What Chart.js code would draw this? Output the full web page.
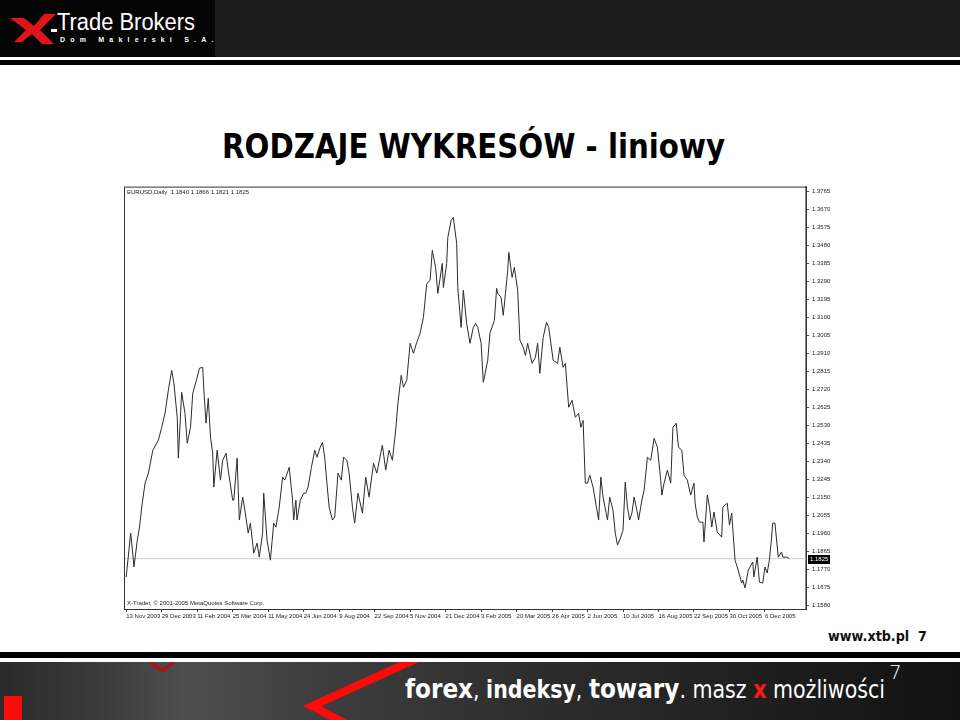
<!DOCTYPE html>
<html>
<head>
<meta charset="utf-8">
<script src="https://cdn.jsdelivr.net/npm/chart.js@4.4.1/dist/chart.umd.min.js"></script>
<style>
  html, body { margin: 0; padding: 0; }
  body { width: 960px; height: 720px; position: relative; overflow: hidden; background: #fff; font-family: "Liberation Sans", Arial, sans-serif; }
  .abs { position: absolute; }
  #header { left: 0; top: 0; width: 960px; height: 57px; background: #1b1b1b; }
  #headerLeft { left: 0; top: 0; width: 215px; height: 57px; background: #050505; }
  #logoText { left: 57px; top: 9px; color: #fff; font-size: 23px; white-space: nowrap; transform-origin: 0 0; }
  #logoSub { left: 60px; top: 36px; color: #fff; font-size: 7px; font-weight: bold; letter-spacing: 5.2px; white-space: nowrap; }
  #bar1 { left: 0; top: 60px; width: 960px; height: 5px; background: #000; }
  #title { left: 222px; top: 126px; font-family: "DejaVu Sans", sans-serif; font-weight: bold; font-size: 34px; color: #000; white-space: nowrap; transform-origin: 0 0; }
  #chartBox { left: 110px; top: 180px; width: 750px; height: 445px; }
  #www { left: 828px; top: 628px; font-family: "DejaVu Sans", sans-serif; font-weight: bold; font-size: 14px; color: #111; white-space: nowrap; transform-origin: 0 0; }
  #bar2 { left: 0; top: 652px; width: 960px; height: 6px; background: #000; }
  #footer { left: 0; top: 662px; width: 960px; height: 58px;
    background: linear-gradient(90deg, #2a2a2a 0%, #3a3a3a 10%, #4e4e4e 19%, #3c3c3c 35%, #2e2e2e 55%, #1e1e1e 80%, #111 100%); overflow: hidden; }
  #slogan { left: 405px; top: 673px; color: #fff; font-family: "DejaVu Sans", sans-serif; font-size: 24px; white-space: nowrap; transform-origin: 0 0; }
  #slogan b { font-weight: bold; }
  #slogan .big { font-size: 27px; }
  #slogan .x { color: #ff1a1a; font-weight: bold; }
  #pageNo { left: 889px; top: 660px; color: #fff; font-size: 20px; font-family: "DejaVu Sans", sans-serif; font-weight: 200; }
</style>
</head>
<body>
<div id="header" class="abs"></div>
<div id="headerLeft" class="abs"></div>
<svg class="abs" style="left:10px;top:12px" width="48" height="34" viewBox="0 0 48 34">
  <polygon points="0,6 14,6 24,14 34,2 46,2 30,18 44,32 32,32 22,22 12,30 4,30 16,18" fill="#e0141a"/>
  <rect x="41" y="17" width="6" height="3" fill="#fff"/>
</svg>
<div id="logoText" class="abs">Trade Brokers</div>
<div id="logoSub" class="abs">Dom Maklerski S.A.</div>
<div id="bar1" class="abs"></div>

<div id="title" class="abs">RODZAJE WYKRESÓW - liniowy</div>

<div id="chartBox" class="abs"><canvas id="lineChart" width="750" height="445"></canvas></div>

<div id="www" class="abs">www.xtb.pl&nbsp;&nbsp;7</div>
<div id="bar2" class="abs"></div>
<div id="footer" class="abs">
  <svg width="960" height="58" style="position:absolute;left:0;top:0">
    <rect x="4" y="34" width="18" height="24" fill="#ff0a0a"/>
    <polyline points="150,0 162,9 174,0" fill="none" stroke="#b01010" stroke-width="3"/>
    <polyline points="418,-4 312,44 350,64" fill="none" stroke="#ff0a0a" stroke-width="8"/>
  </svg>
</div>
<div id="slogan" class="abs"><b class="big">forex</b>, <b>indeksy</b>, <b class="big">towary</b>. masz <span class="x">x</span> możliwości</div>
<div id="pageNo" class="abs">7</div>

<script>
// EURUSD daily close, bar index from 13 Nov 2003
const bars = [0,4,5,7,10,12,14,17,20,24,
  29,32,35,38,41,43,46,47,50,53,
  55,58,60,64,66,69,70,72,74,76,
  78,79,82,85,87,90,92,96,97,100,
  102,105,107,110,112,115,118,120,123,124,
  127,130,133,135,138,141,143,147,150,151,
  153,154,157,160,162,164,167,170,172,175,
  177,179,181,183,186,188,191,194,196,199,
  201,204,206,209,213,216,219,223,226,231,
  234,237,240,243,245,248,250,253,256,259,
  262,265,268,271,274,276,279,281,285,286,
  289,290,293,295,298,299,302,304,307,310,
  313,315,317,320,322,326,328,332,334,335,
  338,340,342,344,345,348,350,353,355,358,
  360,362,366,369,371,373,376,379,381,385,
  389,391,394,396,399,402,405,408,410,412,
  414,416,418,421,424,426,428,430,434,436,
  439,441,443,446,448,450,452,454,456,458,
  461,462,465,467,470,473,476,479,482,483,
  485,488,491,493,496,498,501,503,506,509,
  512,513,515,517,520,521,524,526,528,530,
  533,537,538,542,544,546,549,551,555,556,
  558,561,565,566,569,571,574,576,578,580,
  582,583,585,588,591,592,596,598];

const prices = [1.1728,1.1960,1.1907,1.1781,1.1923,1.1992,1.2097,1.2224,1.2277,1.2398,
  1.2451,1.2519,1.2593,1.2715,1.2820,1.2752,1.2572,1.2356,1.2704,1.2593,
  1.2435,1.2519,1.2699,1.2783,1.2831,1.2836,1.2715,1.2541,1.2673,1.2467,
  1.2382,1.2203,1.2398,1.2240,1.2345,1.2382,1.2293,1.2134,1.2134,1.2356,
  1.2029,1.2150,1.2081,1.1960,1.2013,1.1854,1.1907,1.1833,1.1960,1.2171,
  1.1923,1.1817,1.2013,1.1992,1.2097,1.2256,1.2240,1.2308,1.2134,1.2029,
  1.2134,1.2029,1.2134,1.2171,1.2171,1.2203,1.2308,1.2398,1.2361,1.2414,
  1.2440,1.2361,1.2224,1.2097,1.2029,1.2044,1.2277,1.2240,1.2361,1.2345,
  1.2277,1.2097,1.2013,1.2171,1.2066,1.2256,1.2150,1.2329,1.2277,1.2424,
  1.2293,1.2398,1.2345,1.2504,1.2646,1.2794,1.2731,1.2768,1.2963,1.2910,
  1.2968,1.3016,1.3100,1.3279,1.3295,1.3454,1.3364,1.3227,1.3385,1.3258,
  1.3385,1.3522,1.3612,1.3628,1.3491,1.3258,1.3047,1.3243,1.3068,1.2963,
  1.3047,1.3068,1.3047,1.2963,1.2757,1.2873,1.3016,1.3084,1.3253,1.3227,
  1.3206,1.3111,1.3227,1.3348,1.3443,1.3311,1.3364,1.3243,1.2979,1.2942,
  1.2899,1.2963,1.2857,1.2889,1.2963,1.2804,1.2994,1.3074,1.3047,1.2873,
  1.2857,1.2942,1.2836,1.2857,1.2625,1.2662,1.2572,1.2593,1.2519,1.2556,
  1.2224,1.2224,1.2266,1.2203,1.2097,1.2029,1.2256,1.2150,1.2029,1.2150,
  1.2081,1.1960,1.1897,1.1939,1.1976,1.2229,1.2097,1.2029,1.2066,1.2150,
  1.2066,1.2029,1.2134,1.2187,1.2361,1.2345,1.2461,1.2414,1.2240,1.2161,
  1.2224,1.2293,1.2224,1.2519,1.2541,1.2414,1.2398,1.2266,1.2240,1.2161,
  1.2224,1.2118,1.2044,1.2018,1.2018,1.1913,1.2161,1.2097,1.1992,1.2071,
  1.1965,1.1939,1.2097,1.2118,1.2002,1.2066,1.1817,1.1781,1.1696,1.1712,
  1.1670,1.1765,1.1807,1.1728,1.1833,1.1701,1.1696,1.1781,1.1749,1.1817,
  1.1939,1.2013,1.2013,1.1833,1.1860,1.1833,1.1833,1.1825];

const tickBars = [0,32,64,96,128,160,192,224,256,288,320,352,384,416,448,480,512,544,576];
const dateLabels = ['13 Nov 2003','29 Dec 2003','11 Feb 2004','25 Mar 2004','11 May 2004','24 Jun 2004',
  '9 Aug 2004','22 Sep 2004','5 Nov 2004','21 Dec 2004','3 Feb 2005','20 Mar 2005','26 Apr 2005',
  '2 Jun 2005','10 Jul 2005','16 Aug 2005','22 Sep 2005','30 Oct 2005','6 Dec 2005'];
const priceTicks = [1.1580,1.1675,1.1770,1.1865,1.1960,1.2055,1.2150,1.2245,1.2340,1.2435,1.2530,1.2625,
  1.2720,1.2815,1.2910,1.3005,1.3100,1.3195,1.3290,1.3385,1.3480,1.3575,1.3670,1.3765];
const lastBar = { open: 1.1840, high: 1.1866, low: 1.1821, close: 1.1825 };
const symbolLabel = 'EURUSD,Daily';
const copyrightLabel = 'X-Trader, © 2001-2005 MetaQuotes Software Corp.';

const tinyFont = { family: 'Liberation Sans', size: 6 };

function fitWidth(id, target) {
  const el = document.getElementById(id);
  const w = el.getBoundingClientRect().width;
  el.style.transform = 'scaleX(' + (target / w) + ')';
}

// frame, info texts and the bid price box
const terminalDecor = {
  id: 'terminalDecor',
  afterDraw(chart) {
    const ctx = chart.ctx;
    const a = chart.chartArea;
    const y = chart.scales.y;
    ctx.save();
    ctx.strokeStyle = '#333';
    ctx.lineWidth = 1;
    ctx.strokeRect(a.left + 0.5, a.top + 0.5, a.right - a.left, a.bottom - a.top);
    ctx.fillStyle = '#222';
    ctx.font = '6px "Liberation Sans"';
    ctx.textBaseline = 'top';
    ctx.fillText(symbolLabel + '  ' + [lastBar.open, lastBar.high, lastBar.low, lastBar.close].map(v => v.toFixed(4)).join(' '), a.left + 3, a.top + 3);
    ctx.textBaseline = 'bottom';
    ctx.fillText(copyrightLabel, a.left + 3, a.bottom - 3);
    const py = Math.round(y.getPixelForValue(lastBar.close));
    ctx.fillStyle = '#000';
    ctx.fillRect(a.right + 2, py - 4, 22, 9);
    ctx.fillStyle = '#fff';
    ctx.textBaseline = 'middle';
    ctx.fillText(lastBar.close.toFixed(4), a.right + 4, py + 0.5);
    ctx.restore();
  }
};

const ctx = document.getElementById('lineChart').getContext('2d');
new Chart(ctx, {
  type: 'line',
  data: {
    datasets: [
      {
        label: 'EURUSD',
        data: prices.map((p, i) => ({ x: bars[i], y: p })),
        borderColor: '#2b2b2b',
        borderWidth: 1,
        pointRadius: 0,
        tension: 0,
        order: 0
      },
      {
        label: 'Bid',
        data: [{ x: -2, y: lastBar.close }, { x: 613, y: lastBar.close }],
        borderColor: '#cfcfcf',
        borderWidth: 1,
        pointRadius: 0,
        order: 1
      }
    ]
  },
  options: {
    responsive: false,
    animation: false,
    devicePixelRatio: 1,
    layout: { padding: { left: 14, top: 6, right: 0, bottom: 0 } },
    plugins: { legend: { display: false }, tooltip: { enabled: false } },
    scales: {
      x: {
        type: 'linear',
        min: -2,
        max: 613,
        afterBuildTicks: scale => { scale.ticks = tickBars.map(v => ({ value: v })); },
        afterFit: scale => { scale.height = 16; },
        ticks: {
          autoSkip: false,
          maxRotation: 0,
          align: 'start',
          padding: 1,
          color: '#222',
          font: tinyFont,
          callback: (v, i) => dateLabels[i]
        },
        grid: { drawOnChartArea: false, tickLength: 3, color: '#444' },
        border: { color: '#333' }
      },
      y: {
        position: 'right',
        min: 1.1559,
        max: 1.3791,
        afterBuildTicks: scale => { scale.ticks = priceTicks.map(v => ({ value: v })); },
        afterFit: scale => { scale.width = 54; },
        ticks: {
          padding: 3,
          color: '#222',
          font: tinyFont,
          callback: v => v.toFixed(4)
        },
        grid: { drawOnChartArea: false, tickLength: 3, color: '#555' },
        border: { color: '#888', width: 2 }
      }
    }
  },
  plugins: [terminalDecor]
});

fitWidth('title', 503);
fitWidth('logoText', 138);
fitWidth('www', 99);
fitWidth('slogan', 480);
</script>
</body>
</html>
